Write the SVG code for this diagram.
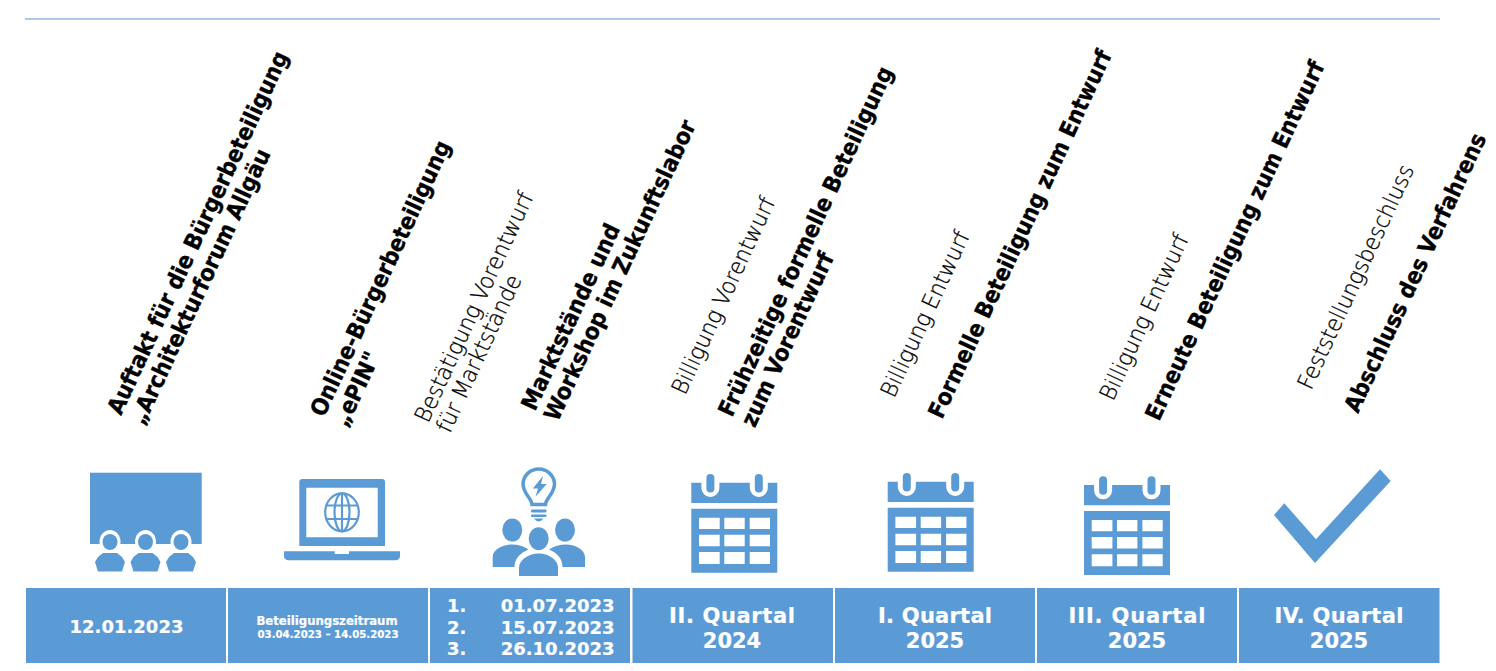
<svg xmlns="http://www.w3.org/2000/svg" width="1496" height="671" viewBox="0 0 1496 671">
<style>
text{font-family:"DejaVu Sans","Liberation Sans",sans-serif}
.b{fill:#5b9bd5}
.box text{fill:#fff;font-weight:700;text-anchor:middle;stroke:#fff;stroke-width:.2px}
.q{font-size:21px}
.t{font-size:21px;font-weight:700;fill:#000;stroke:#000;stroke-width:.3px}
.l{font-size:21px;font-weight:200;fill:#000;stroke:#000;stroke-width:.3px}
</style>
<defs>
<g id="cal">
<path class="b" d="M691.3 482.7H701.400V488a9 9 0 0 0 18 0V482.7H749.800V488a9 9 0 0 0 18 0V482.7H777.3V503H691.3Z"/>
<rect class="b" x="706.400" y="474" width="8" height="18.500" rx="4"/>
<rect class="b" x="754.800" y="474" width="8" height="18.500" rx="4"/>
<path class="b" fill-rule="evenodd" d="M691.3 508.700H777.3V572.700H691.3ZM699 517.700V529H719.700V517.700ZM724.300 517.700V529H744.700V517.700ZM749.700 517.700V529H770V517.700ZM699 534.700V546.300H719.700V534.700ZM724.300 534.700V546.300H744.700V534.700ZM749.700 534.700V546.300H770V534.700ZM699 552V564H719.700V552ZM724.300 552V564H744.700V552ZM749.700 552V564H770V552Z"/>
</g>
<g id="person">
<ellipse cx="110" cy="542" rx="10.500" ry="12" fill="#fff"/>
<ellipse class="b" cx="110" cy="542" rx="7.500" ry="8"/>
<path class="b" d="M103 553H117L122 557 125 562 122 571.500H98L95 562 98 557Z"/>
</g>
</defs>
<line id="top-rule" x1="25" y1="19" x2="1440" y2="19" stroke="#8fb8e3" stroke-width="1.500"/>
<g id="connectors"/>

<g id="step-1">
<rect class="b" x="90" y="472.700" width="111.700" height="71.300"/>
<use href="#person"/><use href="#person" x="35.500"/><use href="#person" x="71"/>
<text class="t" transform="translate(121 416) rotate(-65) scale(1 1.1)">Auftakt für die Bürgerbeteiligung<tspan x="0" dy="22.700">„Architekturforum Allgäu</tspan></text>
</g>
<g id="step-2">
<path class="b" fill-rule="evenodd" d="M302 479H382a3 3 0 0 1 3 3V546H299.300V482a3 3 0 0 1 2.700-3ZM306.300 487.700V537.300H377.700V487.700Z"/>
<path class="b" d="M284 551.300H334.700V554H349V551.300H400V556a4.300 4.300 0 0 1-4.300 4.300H288.300A4.300 4.300 0 0 1 284 556Z"/>
<g fill="none" stroke="#5b9bd5" stroke-width="2.200">
<ellipse cx="342" cy="512.300" rx="16.800" ry="19"/>
<ellipse cx="342" cy="512.300" rx="7.500" ry="19"/>
<path d="M342 493.300V531.300M326 505.500H358M326 519H358"/>
</g>
<text class="t" transform="translate(324 418) rotate(-65) scale(1 1.1)">Online-Bürgerbeteiligung<tspan x="0" dy="22.700">„ePIN"</tspan></text>
</g>
<g id="step-3">
<path fill="none" stroke="#5b9bd5" stroke-width="3.500" d="M532 504.500H545.500C546 498 554.500 494 554.500 483.500A15.800 15.800 0 0 0 523 483.500C523 494 531.500 498 532 504.500Z"/>
<path class="b" d="M543 476L532.800 488.500H538L535.500 496.700 546.700 484H541Z"/>
<rect class="b" x="531" y="509.500" width="15.500" height="3" rx="1"/>
<rect class="b" x="531" y="514.500" width="15.500" height="2.500" rx="1"/>
<path class="b" d="M534 518.500H543.500Q541 521.500 538.700 521.500T534 518.500Z"/>
<ellipse class="b" cx="512.300" cy="530" rx="10" ry="11.500"/>
<ellipse class="b" cx="565" cy="530" rx="10" ry="11.500"/>
<path class="b" d="M492.700 567V557C492.700 549 504 544.500 512 544.500 518 544.500 523.500 546 528.500 549.500 520 553 514.500 559 514.500 567ZM585 567V557C585 549 574 544.500 566 544.500 560 544.500 554 546 549 549.500 557.500 553 562.500 559 562.500 567Z"/>
<ellipse class="b" cx="538.700" cy="538.700" rx="10" ry="11.500"/>
<path class="b" d="M519 576V568C519 559 530 553.500 538.700 553.500S558 559 558 568V576Z"/>
<text class="l" transform="translate(428 424) rotate(-65) scale(1.02 1.08)">Bestätigung Vorentwurf<tspan x="0" dy="22.200">für Marktstände</tspan></text>
<text class="t" transform="translate(535 412) rotate(-65) scale(1 1.1)">Marktstände und<tspan x="0" dy="22.700">Workshop im Zukunftslabor</tspan></text>
</g>
<g id="step-4">
<use href="#cal"/>
<text class="l" transform="translate(685 396) rotate(-65) scale(1.02 1.08)">Billigung Vorentwurf</text>
<text class="t" transform="translate(732 418) rotate(-65) scale(1 1.1)">Frühzeitige formelle Beteiligung<tspan x="0" dy="22.700">zum Vorentwurf</tspan></text>
</g>
<g id="step-5">
<use href="#cal" x="196.400" y="-1"/>
<text class="l" transform="translate(894 399) rotate(-65) scale(1.02 1.08)">Billigung Entwurf</text>
<text class="t" transform="translate(942 420) rotate(-65) scale(1 1.1)">Formelle Beteiligung zum Entwurf</text>
</g>
<g id="step-6">
<use href="#cal" x="392.700" y="2.300"/>
<text class="l" transform="translate(1113 402) rotate(-65) scale(1.02 1.08)">Billigung Entwurf</text>
<text class="t" transform="translate(1159 422) rotate(-65) scale(1 1.1)">Erneute Beteiligung zum Entwurf</text>
</g>
<g id="step-7">
<path class="b" d="M1380 469.300L1390.700 481 1315 563 1274 515 1284.300 503.300 1316 539.300Z"/>
<text class="l" transform="translate(1311 391) rotate(-65) scale(1.02 1.08)">Feststellungsbeschluss</text>
<text class="t" transform="translate(1358 414) rotate(-65) scale(1 1.1)">Abschluss des Verfahrens</text>
</g>

<g id="date-bar" class="box">
<g id="date-1"><rect class="b" x="26" y="588" width="200" height="75"/><text x="126.500" y="633" font-size="18">12.01.2023</text></g>
<g id="date-2"><rect class="b" x="228" y="588" width="200" height="75"/><text x="327" y="625" font-size="11.700">Beteiligungszeitraum</text><text x="328" y="638" font-size="10.200">03.04.2023 – 14.05.2023</text></g>
<g id="date-3"><rect class="b" x="430" y="588" width="200" height="75"/>
<text x="447" y="612" font-size="18" style="text-anchor:start">1.</text><text x="614.500" y="612" font-size="18" style="text-anchor:end">01.07.2023</text>
<text x="447" y="634" font-size="18" style="text-anchor:start">2.</text><text x="614.500" y="634" font-size="18" style="text-anchor:end">15.07.2023</text>
<text x="447" y="655" font-size="18" style="text-anchor:start">3.</text><text x="614.500" y="655" font-size="18" style="text-anchor:end">26.10.2023</text></g>
<g id="date-4"><rect class="b" x="632.500" y="588" width="200.500" height="75"/><text class="q" x="732" y="623" textLength="126">II. Quartal</text><text class="q" x="732" y="648">2024</text></g>
<g id="date-5"><rect class="b" x="835" y="588" width="200" height="75"/><text class="q" x="935" y="623" textLength="114">I. Quartal</text><text class="q" x="935" y="648">2025</text></g>
<g id="date-6"><rect class="b" x="1037" y="588" width="200" height="75"/><text class="q" x="1137" y="623" textLength="137">III. Quartal</text><text class="q" x="1137" y="648">2025</text></g>
<g id="date-7"><rect class="b" x="1239" y="588" width="200.500" height="75"/><text class="q" x="1339" y="623" textLength="129">IV. Quartal</text><text class="q" x="1339" y="648">2025</text></g>
</g>
</svg>
